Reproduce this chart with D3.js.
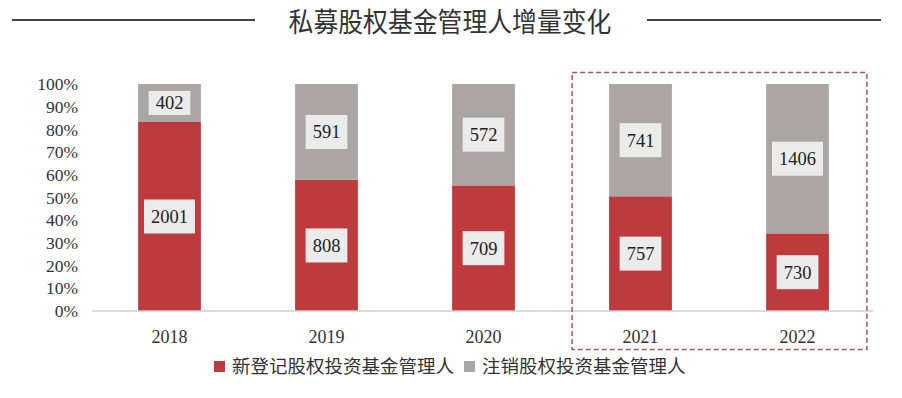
<!DOCTYPE html>
<html>
<head>
<meta charset="utf-8">
<script src="https://cdn.jsdelivr.net/npm/d3@7"></script>
<style>
  html, body { margin: 0; padding: 0; background: #fff; }
  svg { display: block; }
</style>
</head>
<body>
<div id="chart"></div>
<script>
// Private equity fund managers: new registrations vs. cancellations
const years = ['2018', '2019', '2020', '2021', '2022']
const newManagers = [2001, 808, 709, 757, 730]
const cancelledManagers = [402, 591, 572, 741, 1406]
const seriesNames = ['新登记股权投资基金管理人', '注销股权投资基金管理人']
const yTicks = [0, 0.1, 0.2, 0.3, 0.4, 0.5, 0.6, 0.7, 0.8, 0.9, 1]
const highlightYears = ['2021', '2022']

const width = 902
const height = 398
const margin = { top: 84, right: 26, bottom: 87, left: 91 }
const colors = ['#bd3a3d', '#aba6a5']
const serif = '"Liberation Serif", "DejaVu Serif", serif'
const cjk = '"Noto Sans CJK SC", sans-serif'

const svg = d3.select('#chart').append('svg')
  .attr('width', width).attr('height', height)
  .attr('viewBox', [0, 0, width, height])

// Title with side rules (condensed look)
svg.append('text')
  .attr('x', 450).attr('y', 32)
  .attr('text-anchor', 'middle')
  .attr('font-family', cjk)
  .attr('font-size', 27)
  .attr('fill', '#333')
  .attr('transform', 'translate(450,0) scale(0.92,1) translate(-450,0)')
  .text('私募股权基金管理人增量变化')
svg.append('line').attr('x1', 12).attr('x2', 255).attr('y1', 20).attr('y2', 20)
  .attr('stroke', '#444').attr('stroke-width', 2)
svg.append('line').attr('x1', 647).attr('x2', 881).attr('y1', 20).attr('y2', 20)
  .attr('stroke', '#444').attr('stroke-width', 2)

const data = years.map((y, i) => {
  const total = newManagers[i] + cancelledManagers[i]
  return { year: y, values: [newManagers[i], cancelledManagers[i]], total }
})

const x = d3.scaleBand()
  .domain(years)
  .range([margin.left, 876])
  .paddingInner(0.6).paddingOuter(0.3)

const y = d3.scaleLinear()
  .domain([0, 1])
  .range([height - margin.bottom, margin.top])

// Y axis (labels only)
const yAxis = svg.append('g')
  .attr('transform', 'translate(' + (margin.left - 13) + ',0)')
  .call(d3.axisLeft(y).tickValues(yTicks).tickFormat(d3.format('.0%')).tickSize(0).tickPadding(0))
yAxis.select('.domain').remove()
yAxis.selectAll('text')
  .attr('font-family', serif).attr('font-size', 17.5).attr('fill', '#333')

// Stacked bars (percent)
const stack = d3.stack().keys([0, 1]).value((d, k) => d.values[k] / d.total)
const layers = stack(data)

const groups = svg.append('g').selectAll('g')
  .data(layers).join('g')
  .attr('fill', (d, i) => colors[i])

groups.selectAll('rect')
  .data(d => d).join('rect')
  .attr('x', d => x(d.data.year))
  .attr('width', x.bandwidth())
  .attr('y', d => y(d[1]))
  .attr('height', d => y(d[0]) - y(d[1]))

// X axis line
svg.append('line')
  .attr('x1', margin.left + 1).attr('x2', 873)
  .attr('y1', y(0)).attr('y2', y(0))
  .attr('stroke', '#d0d0d0').attr('stroke-width', 1.5)

const xAxis = svg.append('g')
  .attr('transform', 'translate(0,' + y(0) + ')')
  .call(d3.axisBottom(x).tickSize(0).tickPadding(19))
xAxis.select('.domain').remove()
xAxis.selectAll('text')
  .attr('font-family', serif).attr('font-size', 18).attr('fill', '#333')

// Value labels with light boxes
layers.forEach((layer, li) => {
  layer.forEach(d => {
    const cx = x(d.data.year) + x.bandwidth() / 2
    const top = y(d[1]); const bottom = y(d[0])
    const cy = (top + bottom) / 2
    const label = String(d.data.values[li])
    const g = svg.append('g')
    const t = g.append('text')
      .attr('x', cx).attr('y', cy)
      .attr('dy', '0.35em')
      .attr('text-anchor', 'middle')
      .attr('font-family', serif).attr('font-size', 18.5).attr('fill', '#222')
      .text(label)
    const w = t.node().getComputedTextLength() + 14
    const h = Math.min(34, bottom - top - 14)
    g.insert('rect', 'text')
      .attr('x', cx - w / 2).attr('y', cy - h / 2)
      .attr('width', w).attr('height', h)
      .attr('fill', '#ebebeb')
  })
})

// Dashed highlight box around recent years
const hx0 = x(highlightYears[0]) - 37
const hx1 = x(highlightYears[highlightYears.length - 1]) + x.bandwidth() + 38
svg.append('rect')
  .attr('x', hx0).attr('y', 72.5)
  .attr('width', hx1 - hx0).attr('height', 277)
  .attr('fill', 'none')
  .attr('stroke', '#a5565c').attr('stroke-width', 1.5)
  .attr('stroke-dasharray', '5,3')

// Legend
const legend = svg.append('g').attr('transform', 'translate(214,361)')
let lx = 0
seriesNames.forEach((name, i) => {
  legend.append('rect').attr('x', lx).attr('y', 0).attr('width', 11).attr('height', 11).attr('fill', colors[i])
  const t = legend.append('text')
    .attr('x', lx + 18).attr('y', 6).attr('dy', '0.35em')
    .attr('font-family', cjk).attr('font-size', 18.5).attr('fill', '#333')
    .text(name)
  lx += 18 + t.node().getComputedTextLength() + 10
})
</script>
</body>
</html>
